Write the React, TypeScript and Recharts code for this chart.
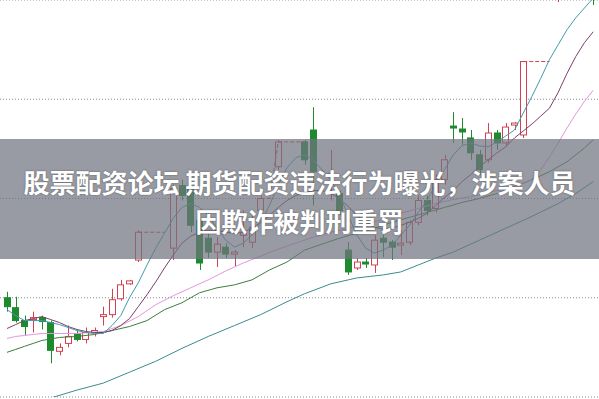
import { Bar, CartesianGrid, ComposedChart, Line, XAxis, YAxis } from "recharts";

const RED = "#d2414f";
const GREEN = "#1e8a2e";

// daily candles, null = suspended day (drawn as dashed line)
const OPEN = [
  11.0, 10.9, 10.77, 10.78, 10.8, 10.75, 10.46, 10.54, 10.64, 10.58, 10.65, 10.81, 10.83, 10.99, 11.14, 11.38,
  null, null, null, 11.5, 12.13, 12.1, 11.78, 11.6, 11.46, 11.51, 11.44, 11.63, 11.56, 11.88, null, 12.32,
  null, null, 12.57, 12.69, null, 12.23, 12.05, 11.48, 11.3, 11.36, 11.33, 11.6, 11.56, 11.53, 11.56, 11.76,
  11.98, 11.9, 12.19, 12.73, 12.7, 12.61, 12.44, 12.39, 12.66, 12.56, 12.74, 12.64, null, null, null, 14.1,
  14.55, 14.9, 15.1, 14.9,
];
const CLOSE = [
  10.91, 10.77, 10.71, 10.8, 10.76, 10.47, 10.5, 10.61, 10.58, 10.65, 10.67, 10.83, 10.98, 11.13, 11.17, 11.66,
  null, null, null, 12.1, 12.03, 11.73, 11.35, 11.46, 11.54, 11.44, 11.46, 11.66, 11.71, 12.0, null, 12.57,
  null, null, 12.39, 12.27, null, 12.25, 11.88, 11.26, 11.36, 11.34, 11.58, 11.56, 11.51, 11.55, 11.76, 11.98,
  11.88, 12.19, 12.39, 12.71, 12.67, 12.46, 12.29, 12.66, 12.56, 12.72, 12.76, 13.38, null, null, null, 14.6,
  14.9, 15.1, 15.0, 14.5,
];
const HIGH = [
  11.06, 11.01, 10.82, 10.86, 10.82, 10.77, 10.54, 10.72, 10.67, 10.7, 10.7, 10.91, 11.09, 11.18, 11.18, 11.68,
  null, null, null, 12.14, 12.19, 12.19, 11.86, 11.66, 11.61, 11.55, 11.48, 11.88, 11.83, 12.03, null, 12.59,
  null, null, 12.59, 12.92, null, 12.49, 12.08, 11.56, 11.4, 11.4, 11.63, 11.74, 11.58, 11.68, 11.78, 12.03,
  12.03, 12.24, 12.44, 12.87, 12.81, 12.69, 12.49, 12.76, 12.69, 12.76, 12.77, 13.38, null, null, null, 14.71,
  15.0, 15.2, 15.3, 15.0,
];
const LOW = [
  10.86, 10.75, 10.62, 10.65, 10.68, 10.34, 10.42, 10.5, 10.56, 10.54, 10.61, 10.72, 10.8, 10.97, 11.13, 11.36,
  null, null, null, 11.38, 11.98, 11.66, 11.28, 11.4, 11.31, 11.4, 11.31, 11.51, 11.5, 11.85, null, 12.29,
  null, null, 12.34, 11.93, null, 11.98, 11.83, 11.23, 11.28, 11.3, 11.25, 11.41, 11.38, 11.43, 11.53, 11.73,
  11.83, 11.86, 12.14, 12.56, 12.54, 12.39, 12.24, 12.36, 12.49, 12.53, 12.69, 12.61, null, null, null, 13.98,
  14.4, 14.8, 14.9, 13.95,
];
// last close carried over suspended days
const GAP = [
  null, null, null, null, null, null, null, null, null, null, null, null, null, null, null, 11.66,
  11.66, 11.66, 11.66, null, null, null, null, null, null, null, null, null, null, 12.0, 12.0, 12.57,
  12.57, 12.57, 12.57, null, null, null, null, null, null, null, null, null, null, null, null, null,
  null, null, null, null, null, null, null, null, null, null, null, 13.38, 13.38, 13.38, 13.38, null,
  null, null, null, null,
];

const MA5 = [
  10.88, 10.82, 10.77, 10.77, 10.77, 10.75, 10.73, 10.7, 10.67, 10.65, 10.64, 10.64, 10.72, 10.82, 11.0, 11.15,
  11.33, 11.5, 11.65, 11.8, 11.91, 11.95, 11.91, 11.83, 11.7, 11.58, 11.51, 11.55, 11.63, 11.76, 11.93, 12.14,
  12.31, 12.41, 12.44, 12.39, 12.29, 12.19, 12.03, 11.83, 11.63, 11.5, 11.45, 11.48, 11.53, 11.63, 11.73, 11.86,
  11.98, 12.14, 12.29, 12.44, 12.53, 12.56, 12.53, 12.52, 12.57, 12.63, 12.69, 12.86, 13.03, 13.21, 13.4, 13.55,
  13.7, 13.82, 13.92, 14.02,
];
const MA10 = [
  10.69, 10.73, 10.77, 10.79, 10.81, 10.78, 10.75, 10.71, 10.68, 10.66, 10.65, 10.65, 10.67, 10.72, 10.79, 10.91,
  11.03, 11.16, 11.3, 11.43, 11.55, 11.62, 11.66, 11.68, 11.68, 11.66, 11.65, 11.66, 11.7, 11.76, 11.83, 11.91,
  11.98, 12.03, 12.06, 12.08, 12.08, 12.05, 12.0, 11.92, 11.83, 11.76, 11.71, 11.69, 11.7, 11.73, 11.76, 11.8,
  11.85, 11.93, 12.01, 12.08, 12.17, 12.24, 12.32, 12.39, 12.46, 12.52, 12.61, 12.68, 12.75, 12.83, 12.91, 13.07,
  13.26, 13.43, 13.57, 13.68,
];
const MA20 = [
  10.59, 10.61, 10.62, 10.63, 10.64, null, null, null, 10.64, null, null, 10.66, null, 10.72, null, 10.81,
  null, 10.93, null, 11.02, null, 11.1, null, 11.18, null, 11.27, null, 11.35, null, 11.42, null, 11.49,
  null, 11.55, null, 11.61, null, 11.66, null, 11.7, null, 11.74, null, 11.79, null, 11.85, null, 11.9,
  null, 11.95, null, 11.99, null, 12.02, null, 12.06, null, 12.1, 12.12, 12.15, 12.19, 12.29, 12.42, 12.56,
  12.71, 12.85, 12.98, 13.09,
];
const MA30 = [
  10.45, 10.48, 10.51, 10.54, 10.57, null, 10.6, null, 10.61, null, 10.63, null, 10.67, null, 10.71, null,
  10.77, null, 10.88, null, 10.95, null, 11.05, null, 11.1, null, 11.13, null, 11.18, null, 11.28, null,
  11.36, null, 11.48, null, 11.54, null, 11.6, null, 11.65, null, 11.7, null, 11.76, null, 11.81, null,
  11.86, null, 11.91, null, 11.96, null, 12.0, null, 12.05, null, 12.12, null, 12.19, null, 12.27, null,
  12.37, null, 12.51, 12.59,
];
const MA60 = [
  9.85, 9.87, 9.9, 9.92, null, 9.99, null, null, 10.07, null, null, 10.14, null, null, 10.25, null,
  null, 10.36, null, null, 10.49, null, null, 10.61, null, null, 10.72, null, null, 10.83, null, null,
  10.96, null, 11.04, null, null, 11.14, null, null, 11.2, null, null, 11.23, null, 11.26, null, 11.33,
  null, 11.4, null, 11.46, null, null, 11.58, null, null, 11.7, null, null, 11.82, null, null, 11.95,
  null, 12.05, null, 12.17,
];

const PRICE_TICKS = [10, 11, 12, 13];

const data = OPEN.map((open, i) => ({
  i,
  open,
  close: CLOSE[i],
  high: HIGH[i],
  low: LOW[i],
  gap: GAP[i],
  ma5: MA5[i],
  ma10: MA10[i],
  ma20: MA20[i],
  ma30: MA30[i],
  ma60: MA60[i],
}));

function Candle(props: any) {
  const { x, y, width, height, payload } = props;
  if (!payload || payload.open == null || height == null) return null;
  const top = Math.min(y, y + height);
  const h = Math.abs(height);
  const range = payload.high - payload.low;
  const k = range > 0 ? h / range : 0;
  const yOf = (v: number) => top + (payload.high - v) * k;
  const up = payload.close >= payload.open;
  const color = up ? RED : GREEN;
  const cx = Math.round(x + width / 2) + 0.5;
  const bTop = yOf(Math.max(payload.open, payload.close));
  const bh = Math.max(1, yOf(Math.min(payload.open, payload.close)) - bTop);
  return (
    <g>
      <line x1={cx} x2={cx} y1={top} y2={top + h} stroke={color} strokeWidth={1} />
      <rect
        x={Math.round(x) + 0.5}
        y={bTop}
        width={width - 1}
        height={bh}
        fill={up ? "#fff" : color}
        stroke={color}
        strokeWidth={1}
      />
    </g>
  );
}

const lineProps = {
  dot: false,
  activeDot: false,
  connectNulls: true,
  isAnimationActive: false,
  strokeWidth: 1,
};

export default function App() {
  return (
    <div
      style={{
        position: "absolute",
        left: 0,
        top: 0,
        width: 599,
        height: 399,
        background: "#fff",
        overflow: "hidden",
      }}
    >
      <ComposedChart
        width={599}
        height={399}
        data={data}
        margin={{ top: 0, right: 0, left: 0, bottom: 2 }}
      >
        <CartesianGrid
          vertical={false}
          stroke="#8a8a8a"
          strokeDasharray="1 2"
        />
        <XAxis
          dataKey="i"
          type="number"
          domain={[-0.8, 67.66]}
          allowDataOverflow
          hide
        />
        <YAxis
          type="number"
          domain={[10, 14]}
          ticks={PRICE_TICKS}
          allowDataOverflow
          hide
        />
        <Line dataKey="ma60" stroke="#3b8c90" {...lineProps} />
        <Line dataKey="ma30" stroke="#3f7d3f" {...lineProps} />
        <Line dataKey="ma20" stroke="#e496de" {...lineProps} />
        <Line dataKey="ma10" stroke="#7b3f6e" {...lineProps} />
        <Line dataKey="ma5" stroke="#3f9bab" {...lineProps} />
        <Line
          dataKey="gap"
          stroke={RED}
          strokeDasharray="4 2"
          dot={false}
          activeDot={false}
          isAnimationActive={false}
        />
        <Bar
          dataKey={(d: any) => (d.low == null ? null : [d.low, d.high])}
          barSize={7}
          shape={<Candle />}
          activeBar={false}
          isAnimationActive={false}
        />
      </ComposedChart>
      <div
        style={{
          position: "absolute",
          left: 0,
          top: 139,
          width: 599,
          height: 120,
          background: "rgba(112,117,127,0.72)",
          color: "#fff",
          fontFamily: "'Noto Sans CJK SC', sans-serif",
          fontWeight: 700,
          fontSize: 26,
          textAlign: "center",
          textShadow: "0 0 2px rgba(50,50,50,0.6)",
        }}
      >
        <div style={{ position: "absolute", left: 0, right: 0, top: 26, lineHeight: "34px" }}>
          股票配资论坛 期货配资违法行为曝光，涉案人员
        </div>
        <div style={{ position: "absolute", left: 0, right: 0, top: 65, lineHeight: "34px" }}>
          因欺诈被判刑重罚
        </div>
      </div>
    </div>
  );
}
